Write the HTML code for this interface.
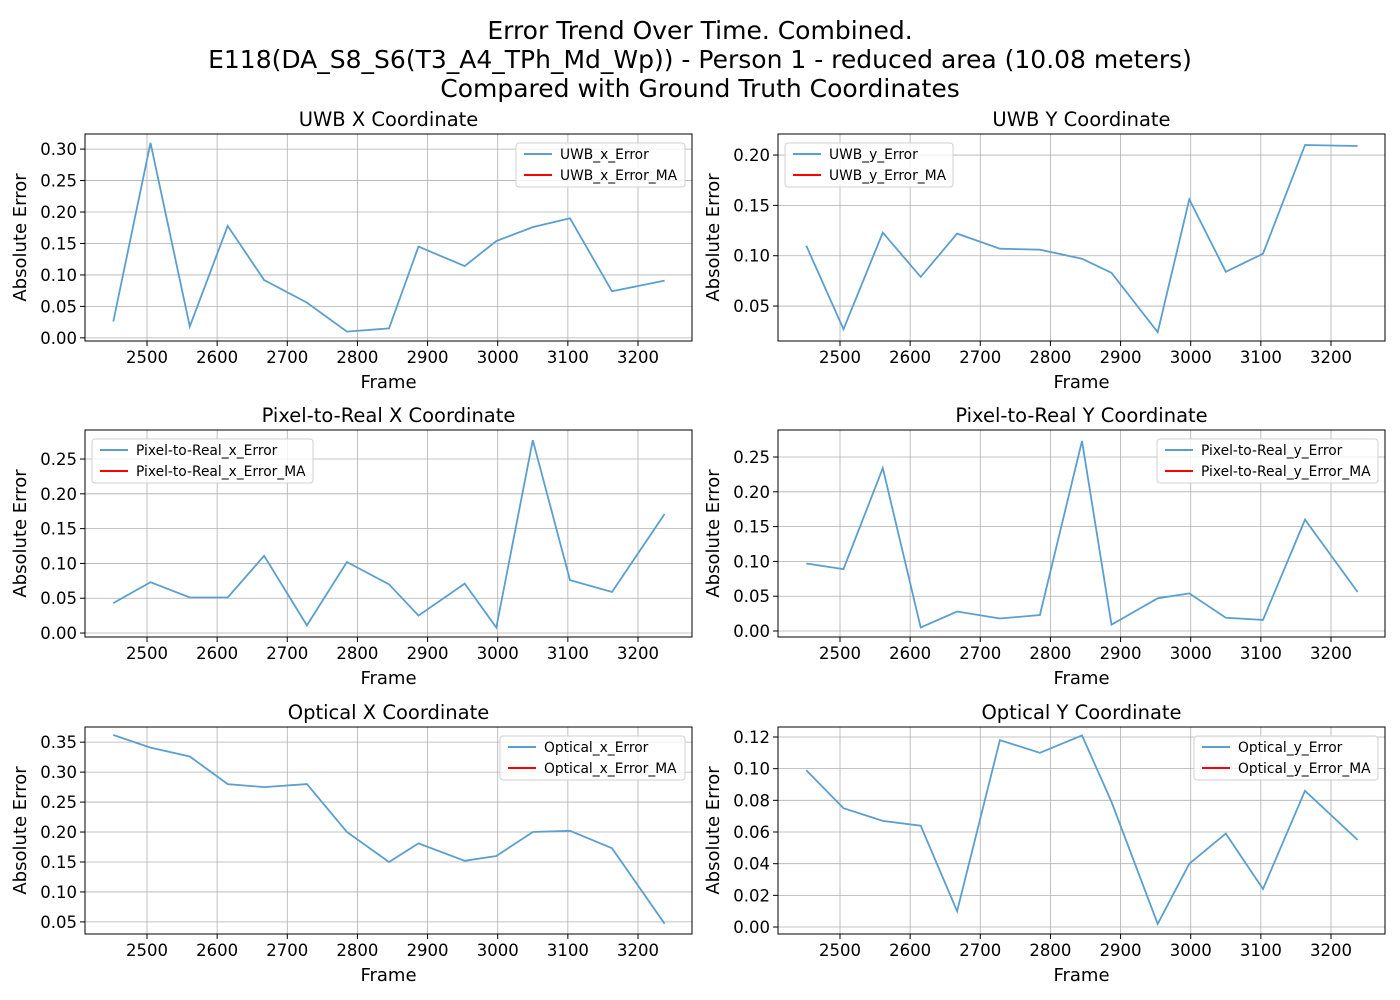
<!DOCTYPE html>
<html><head><meta charset="utf-8"><style>
body{margin:0;background:#fff;}
svg{display:block;font-family:"DejaVu Sans","Liberation Sans",sans-serif;}
</style></head><body>
<svg id="chart" width="1400" height="1000">
<text x="700" y="39" font-size="25" text-anchor="middle">Error Trend Over Time. Combined.</text>
<text x="700" y="68" font-size="25" text-anchor="middle">E118(DA_S8_S6(T3_A4_TPh_Md_Wp)) - Person 1 - reduced area (10.08 meters)</text>
<text x="700" y="97" font-size="25" text-anchor="middle">Compared with Ground Truth Coordinates</text>
</svg>
<script>
const frames=[2452,2505,2561,2615,2667,2728,2785,2845,2887,2953,2998,3050,3103,3163,3238];
const uwbX=[0.026,0.31,0.018,0.178,0.092,0.056,0.01,0.015,0.145,0.114,0.154,0.176,0.19,0.074,0.091];
const uwbY=[0.11,0.027,0.123,0.079,0.122,0.107,0.106,0.097,0.083,0.024,0.156,0.084,0.102,0.21,0.209];
const p2rX=[0.043,0.073,0.051,0.051,0.111,0.011,0.102,0.070,0.025,0.071,0.008,0.277,0.076,0.059,0.171];
const p2rY=[0.097,0.089,0.234,0.005,0.028,0.018,0.023,0.273,0.009,0.047,0.054,0.019,0.016,0.16,0.056];
const optX=[0.362,0.341,0.326,0.28,0.275,0.28,0.2,0.15,0.181,0.152,0.16,0.2,0.202,0.173,0.047];
const optY=[0.099,0.075,0.067,0.064,0.01,0.118,0.11,0.121,0.079,0.002,0.04,0.059,0.024,0.086,0.055];
const xTicks=[2500,2600,2700,2800,2900,3000,3100,3200];
const NS='http://www.w3.org/2000/svg';
const svg=document.getElementById('chart');
function mk(tag,attrs,parent,text){const e=document.createElementNS(NS,tag);for(const k in attrs)e.setAttribute(k,attrs[k]);if(text!==undefined)e.textContent=text;(parent||svg).appendChild(e);return e;}
const panels=[
 {name:'uwb-x',title:'UWB X Coordinate',data:uwbX,label:'UWB_x',L:85,T:134,ymin:-0.005,ymax:0.324,ticks:[0,0.05,0.1,0.15,0.2,0.25,0.3],dec:2,leg:'right',lw:169},
 {name:'uwb-y',title:'UWB Y Coordinate',data:uwbY,label:'UWB_y',L:778,T:134,ymin:0.0153,ymax:0.2209,ticks:[0.05,0.1,0.15,0.2],dec:2,leg:'left',lw:168},
 {name:'p2r-x',title:'Pixel-to-Real X Coordinate',data:p2rX,label:'Pixel-to-Real_x',L:85,T:430,ymin:-0.0057,ymax:0.2917,ticks:[0,0.05,0.1,0.15,0.2,0.25],dec:2,leg:'left',lw:221},
 {name:'p2r-y',title:'Pixel-to-Real Y Coordinate',data:p2rY,label:'Pixel-to-Real_y',L:778,T:430,ymin:-0.0086,ymax:0.2888,ticks:[0,0.05,0.1,0.15,0.2,0.25],dec:2,leg:'right',lw:221},
 {name:'optical-x',title:'Optical X Coordinate',data:optX,label:'Optical_x',L:85,T:727,ymin:0.0298,ymax:0.3753,ticks:[0.05,0.1,0.15,0.2,0.25,0.3,0.35],dec:2,leg:'right',lw:185},
 {name:'optical-y',title:'Optical Y Coordinate',data:optY,label:'Optical_y',L:778,T:727,ymin:-0.0044,ymax:0.1263,ticks:[0,0.02,0.04,0.06,0.08,0.1,0.12],dec:2,leg:'right',lw:184}
];
const W=607,H=207,xmin=2411.6,xmax=3277;
panels.forEach(p=>{
 const g=mk('g',{});
 
 
 const xs=v=>p.L+(v-xmin)/(xmax-xmin)*W;
 const ys=v=>p.T+H-(v-p.ymin)/(p.ymax-p.ymin)*H;
 xTicks.forEach(t=>{const x=xs(t);
  mk('line',{x1:x,x2:x,y1:p.T,y2:p.T+H,stroke:'#b0b0b0','stroke-width':0.8},g);
  mk('line',{x1:x,x2:x,y1:p.T+H,y2:p.T+H+5,stroke:'#000'},g);
  const tl=mk('text',{x:x,y:p.T+H+22,'font-size':16.5,'text-anchor':'middle'},g,t);
  
  
 });
 p.ticks.forEach(t=>{const y=ys(t);
  mk('line',{x1:p.L,x2:p.L+W,y1:y,y2:y,stroke:'#b0b0b0','stroke-width':0.8},g);
  mk('line',{x1:p.L-5,x2:p.L,y1:y,y2:y,stroke:'#000'},g);
  const tl=mk('text',{x:p.L-8,y:y+6,'font-size':16.5,'text-anchor':'end'},g,t.toFixed(p.dec));
  
  
 });
 const pts=p.data.map((v,i)=>xs(frames[i]).toFixed(1)+','+ys(v).toFixed(1)).join(' ');
 const line=mk('polyline',{points:pts,fill:'none',stroke:'#5b9fcf','stroke-width':1.8},g);
 
 
 mk('rect',{x:p.L,y:p.T,width:W,height:H,fill:'none',stroke:'#000','stroke-width':1},g);
 const ti=mk('text',{x:p.L+W/2,y:p.T-8,'font-size':19.5,'text-anchor':'middle'},g,p.title);
 
 
 const xl=mk('text',{x:p.L+W/2,y:p.T+H+47,'font-size':18,'text-anchor':'middle'},g,'Frame');
 
 
 const cy=p.T+H/2;
 const yl=mk('text',{x:p.L-59,y:cy,'font-size':18,'text-anchor':'middle',transform:`rotate(-90 ${p.L-59} ${cy})`},g,'Absolute Error');
 
 
 const lx=p.leg==='right'?p.L+W-7-p.lw:p.L+7, ly=p.T+9;
 const lg=mk('g',{},g);
 
 
 mk('rect',{x:lx,y:ly,width:p.lw,height:44,rx:3,fill:'#fff','fill-opacity':0.8,stroke:'#d0d0d0'},lg);
 mk('line',{x1:lx+8,x2:lx+36,y1:ly+11,y2:ly+11,stroke:'#5b9fcf','stroke-width':2},lg);
 const t1=mk('text',{x:lx+44,y:ly+16,'font-size':13.8},lg,p.label+'_Error');
 
 
 mk('line',{x1:lx+8,x2:lx+36,y1:ly+32,y2:ly+32,stroke:'#ff0000','stroke-width':2},lg);
 const t2=mk('text',{x:lx+44,y:ly+37,'font-size':13.8},lg,p.label+'_Error_MA');
 
 
});
</script>
</body></html>
